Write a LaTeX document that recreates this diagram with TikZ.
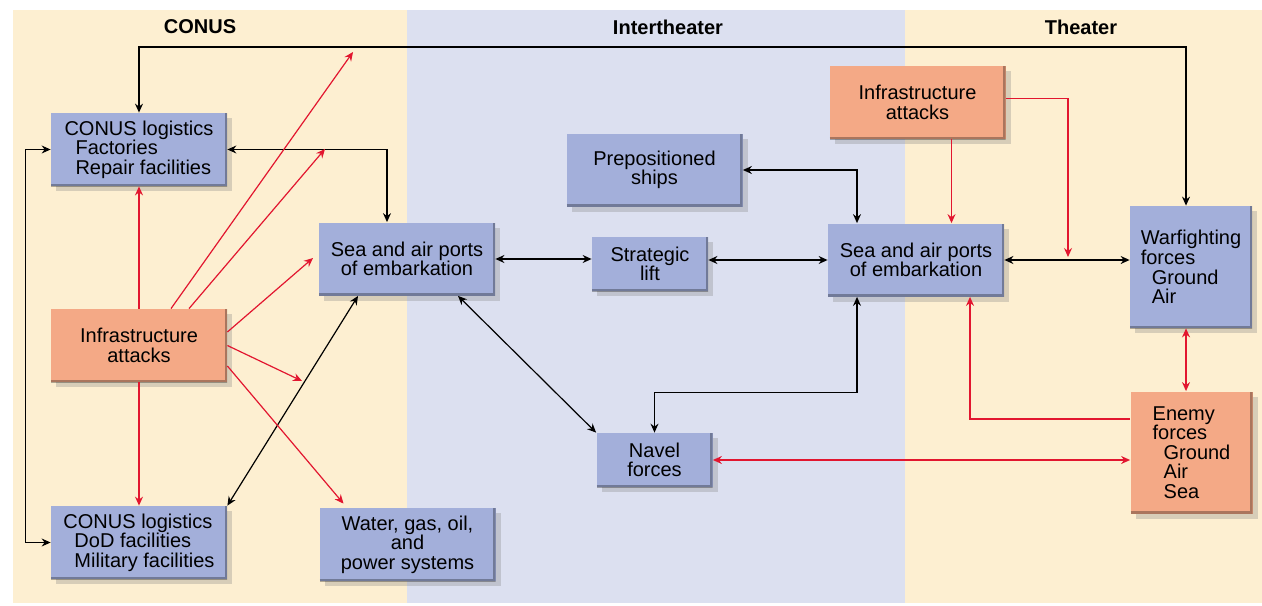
\documentclass[tikz,border=0pt]{standalone}
\usepackage{fontspec}
\setmainfont{Liberation Sans}
\usetikzlibrary{arrows.meta,shadows}
\definecolor{conustan}{HTML}{FDEFD1}
\definecolor{interblue}{HTML}{DCE0F0}
\definecolor{boxblue}{HTML}{A3AFDA}
\definecolor{boxorange}{HTML}{F4A986}
\definecolor{attackred}{HTML}{E2162F}
\tikzset{
  boxbase/.style={inner sep=2pt, align=center, font=\fontsize{10}{9.8}\selectfont,
    drop shadow={shadow xshift=2.5pt, shadow yshift=-2.5pt, opacity=.3},
    path picture={\draw[black, opacity=.3, line width=2.5pt]
      (path picture bounding box.south west) -- (path picture bounding box.south east)
      -- (path picture bounding box.north east);}},
  bluebox/.style={boxbase, fill=boxblue},
  attackbox/.style={boxbase, fill=boxorange},
  widebox/.style={minimum width=88pt, minimum height=36.5pt},
  smallbox/.style={minimum width=58pt, minimum height=27pt},
  tallbox/.style={minimum width=61pt, minimum height=61pt},
  link/.style={line width=0.6pt, black},
  attack/.style={line width=0.6pt, attackred},
  heading/.style={font=\bfseries\fontsize{10}{12}\selectfont},
  >={Stealth[length=4.5pt,width=4pt,inset=1.5pt]}
}
\newcommand{\subline}{\hspace*{5.5pt}}
\begin{document}
\begin{tikzpicture}[x=0.5pt, y=-0.5pt]
    % three regions
    \useasboundingbox (0,0) rectangle (1262,605);
    \fill[white] (0,0) rectangle (1262,605);
    \fill[conustan] (13,10) rectangle (407,603);
    \fill[interblue] (407,10) rectangle (905,603);
    \fill[conustan] (905,10) rectangle (1262,603);
    \node[heading] (conushead) at (200,27) {CONUS};
    \node[heading] (interhead) at (668,27) {Intertheater};
    \node[heading] (theaterhead) at (1081,27) {Theater};

    % CONUS
    \node[bluebox, widebox, align=left] (logf) at (139,149.5)
        {CONUS logistics\\\subline Factories\\\subline Repair facilities};
    \node[attackbox, widebox] (infc) at (139,345.5) {Infrastructure\\attacks};
    \node[bluebox, widebox, align=left] (logd) at (139,542.5)
        {CONUS logistics\\\subline DoD facilities\\\subline Military facilities};
    \node[bluebox, widebox] (portsc) at (407,259) {Sea and air ports\\of embarkation};
    \node[bluebox, widebox] (water) at (407.5,544.5) {Water, gas, oil,\\and\\power systems};

    % intertheater
    \node[bluebox, widebox] (prepos) at (654.5,170) {Prepositioned\\ships};
    \node[bluebox, smallbox] (lift) at (650,264) {Strategic\\lift};
    \node[bluebox, smallbox] (navel) at (654.5,460) {Navel\\forces};

    % theater
    \node[attackbox, widebox] (inft) at (917.5,102.5) {Infrastructure\\attacks};
    \node[bluebox, widebox] (portst) at (916,260) {Sea and air ports\\of embarkation};
    \node[bluebox, tallbox, align=left] (warf) at (1191,267)
        {Warfighting\\forces\\\subline Ground\\\subline Air};
    \node[attackbox, tallbox, align=left] (enemy) at (1191.5,452.5)
        {Enemy\\forces\\\subline Ground\\\subline Air\\\subline Sea};

    % black links
    \coordinate (topline) at (0,47);
    \draw[link,<->] (logf.north) -- (logf.north |- topline) -| ([xshift=-2.5pt]warf.north);
    \draw[link,<->] (logf.west) -- ++(-25,0) |- (logd.west);
    \draw[link,<->] ([xshift=-10pt]portsc.north) |- (logf.east);
    \draw[link,<->] (portsc.east) -- (portsc.east -| lift.west);
    \draw[link,<->] (portst.west -| lift.east) -- (portst.west);
    \draw[link,<->] (prepos.east) -| ([xshift=-29.5pt]portst.north);
    \draw[link,<->] ([xshift=25.5pt]portsc.south) -- (navel.north west);
    \draw[link,<->] (logd.north east) -- ([xshift=-24.5pt]portsc.south);
    \draw[link,<->] (navel.north) -- ++(0,-40) -| ([xshift=-29.5pt]portst.south);
    \draw[link,<->] (portst.east) -- (portst.east -| warf.west);

    % red attacks
    \coordinate (hitA) at (353,52);
    \coordinate (hitB) at (325,149);
    \coordinate (hitC) at (313,258);
    \coordinate (hitD) at (302,381);
    \coordinate (hitE) at (1068,257);
    \draw[attack,->] (infc.north) -- (logf.south);
    \draw[attack,->] (infc.south) -- (logd.north);
    \draw[attack,->] ([xshift=16pt]infc.north) -- (hitA);
    \draw[attack,->] ([xshift=25pt]infc.north) -- (hitB);
    \draw[attack,->] ([yshift=6.75pt]infc.east) -- (hitC);
    \draw[attack,->] (infc.east) -- (hitD);
    \draw[attack,->] ([yshift=-10.25pt]infc.east) -- ([xshift=-32pt,yshift=2pt]water.north);
    \draw[attack,->] ([yshift=2pt]inft.east) -| (hitE);
    \draw[attack,->] ([xshift=17pt]inft.south) -- ([xshift=17pt]inft.south |- portst.north);
    \draw[attack,->] ([yshift=16.75pt]enemy.west) -| ([xshift=27pt]portst.south);
    \draw[attack,<->] (navel.east) -- (navel.east -| enemy.west);
    \draw[attack,<->] ([xshift=-2.5pt]warf.south) -- ([xshift=-2.5pt]warf.south |- enemy.north);
\end{tikzpicture}
\end{document}
